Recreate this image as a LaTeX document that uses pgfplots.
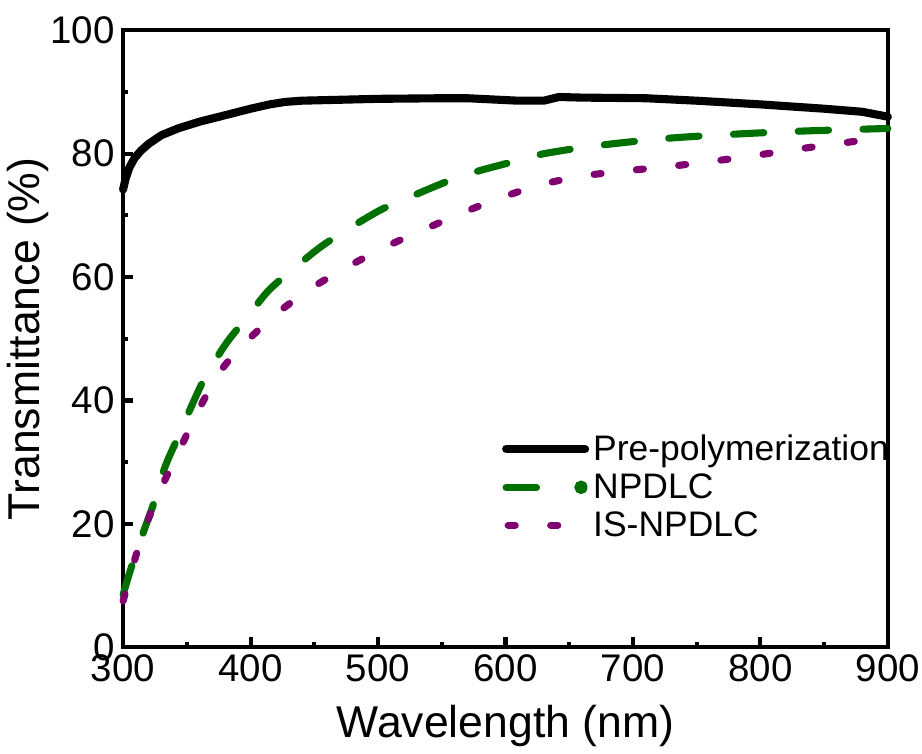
\documentclass[border=0pt]{standalone}
\usepackage{pgfplots}
\pgfplotsset{compat=1.18}
\usepackage{fontspec}
\setmainfont{Liberation Sans}

\definecolor{npgreen}{RGB}{0,112,0}
\definecolor{ispurple}{RGB}{128,0,112}

\begin{document}
\begin{tikzpicture}
\begin{axis}[
  scale only axis,
  width=377.5pt, height=304.5pt,
  xmin=300, xmax=900, ymin=0, ymax=100,
  xtick={300,400,...,900}, ytick={0,20,...,100},
  minor x tick num=1, minor y tick num=1,
  tick pos=left, tick align=inside,
  major tick length=5pt, minor tick length=2.5pt,
  every tick/.style={line width=2pt, black},
  axis line style={line width=2pt},
  /pgf/number format/assume math mode=true,
  ticklabel style={font=\fontsize{19}{19}\selectfont},
  xticklabel style={inner sep=1pt, yshift=-2.5pt},
  yticklabel style={inner sep=2pt, xshift=-2pt},
  xlabel={Wavelength (nm)}, ylabel={Transmittance (\%)},
  every axis x label/.style={at={(axis description cs:0.5,-0.128)}, anchor=center,
    font=\fontsize{22}{22}\selectfont},
  every axis y label/.style={at={(axis description cs:-0.125,0.5)}, rotate=90, anchor=center,
    font=\fontsize{22}{22}\selectfont},
  legend style={draw=none, fill=none, at={(0.495,0.352)}, anchor=north west,
    font=\fontsize{17.5}{17.5}\selectfont, row sep=1pt, inner sep=0pt},
  legend cell align=left,
  clip=false,
]
\path (rel axis cs:0.5,1) ++(0pt,15pt) coordinate (topspace);
\path (topspace) -- (topspace);
\addplot[black, line width=4pt, line cap=round, line join=round,
  legend image code/.code={\draw[black, line width=4pt, line cap=round] (0pt,0pt) -- (39pt,0pt);}]
coordinates {
(300,74.2) (302,76.0) (305,77.8) (309,79.3) (314,80.5) (320,81.6) (330,83.0)
(343,84.1) (360,85.2) (383,86.4) (400,87.3) (415,88.0) (427,88.4) (440,88.6)
(460,88.7) (500,88.9) (550,89.0) (570,89.0) (590,88.8) (610,88.6) (630,88.6)
(642,89.2) (660,89.1) (710,89.0) (750,88.6) (800,88.0) (850,87.3) (880,86.8) (900,86.0)
};
\addlegendentry{Pre-polymerization}

\addplot[npgreen, line width=3.5pt, smooth, line cap=round, dash pattern=on 15pt off 17pt,
  legend image code/.code={\draw[npgreen, line width=3.5pt, line cap=round] (0pt,0pt) -- (15pt,0pt);
    \fill[npgreen] (37pt,0pt) circle (1.5pt);}]
coordinates {
(300,8.5) (305.6,12.4) (316,18.7) (324,23.3) (333,29.3) (343,34.0) (355,39.7)
(365,44.0) (381,49.3) (397,53.4) (414,57.8) (434,61.4) (455,64.9) (475,67.6)
(502,70.9) (524,72.9) (553,75.4) (577,77.1) (606,78.7) (630,80.0) (671,81.3)
(727,82.5) (782,83.2) (836,83.7) (900,84.1)
};
\addlegendentry{NPDLC}

\addplot[ispurple, line width=3.5pt, smooth, line cap=round, dash pattern=on 3.5pt off 17.5pt,
  legend image code/.code={\draw[ispurple, line width=3.5pt, line cap=round, dash pattern=on 3.5pt off 17.5pt] (1pt,0pt) -- (39pt,0pt);}]
coordinates {
(300,7.5) (310,14.8) (320,20.9) (333,27.2) (347,33.2) (361,39.2) (378,45.2)
(398,49.8) (423,54.5) (450,58.5) (479,62.0) (509,65.2) (537,67.8) (567,70.5)
(597,72.9) (628,75.0) (661,76.4) (693,77.2) (727,77.9) (759,78.7) (792,79.6)
(824,80.6) (856,81.5) (888,82.4) (900,82.7)
};
\addlegendentry{IS-NPDLC}
\end{axis}
\end{tikzpicture}
\end{document}
